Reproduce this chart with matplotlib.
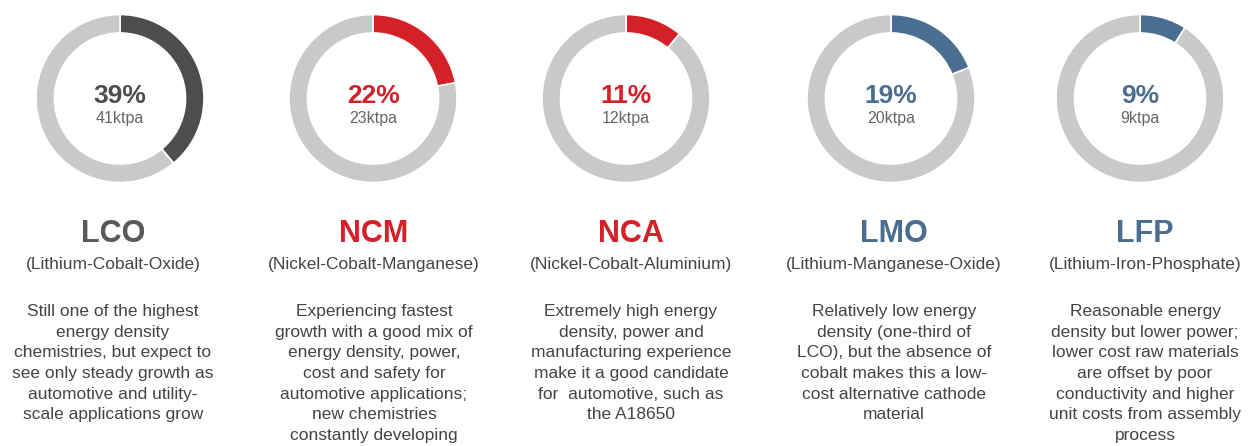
import matplotlib
matplotlib.use("Agg")
import matplotlib.pyplot as plt

# --- Data ---
chemistries = ["LCO", "NCM", "NCA", "LMO", "LFP"]
full_names = [
    "(Lithium-Cobalt-Oxide)",
    "(Nickel-Cobalt-Manganese)",
    "(Nickel-Cobalt-Aluminium)",
    "(Lithium-Manganese-Oxide)",
    "(Lithium-Iron-Phosphate)",
]
shares = [39, 22, 11, 19, 9]          # % of demand
volumes = [41, 23, 12, 20, 9]         # ktpa
descriptions = [
    "Still one of the highest\nenergy density\nchemistries, but expect to\n"
    "see only steady growth as\nautomotive and utility-\nscale applications grow",
    "Experiencing fastest\ngrowth with a good mix of\nenergy density, power,\n"
    "cost and safety for\nautomotive applications;\nnew chemistries\nconstantly developing",
    "Extremely high energy\ndensity, power and\nmanufacturing experience\n"
    "make it a good candidate\nfor  automotive, such as\nthe A18650",
    "Relatively low energy\ndensity (one-third of\nLCO), but the absence of\n"
    "cobalt makes this a low-\ncost alternative cathode\nmaterial",
    "Reasonable energy\ndensity but lower power;\nlower cost raw materials\n"
    "are offset by poor\nconductivity and higher\nunit costs from assembly\nprocess",
]

# --- Style / layout ---
colors = ["#4d4d4d", "#d42027", "#d42027", "#4a6e92", "#4a6e92"]
title_colors = ["#595959", "#d42027", "#d42027", "#4a6e92", "#4a6e92"]
ring_grey = "#c9c9c9"
text_grey = "#444444"

W, H = 1257, 446
donut_x = [120, 373, 626, 891, 1140]
text_x = [113, 374, 631, 894, 1145]
donut_y = 98.5
radius = 84

plt.rcParams["font.family"] = ["Liberation Sans", "DejaVu Sans"]

fig = plt.figure(figsize=(W / 100, H / 100), dpi=100)
fig.patch.set_facecolor("white")


def fy(py):
    # pixel from top -> figure fraction
    return 1 - py / H


for i, name in enumerate(chemistries):
    cx = donut_x[i]
    ax = fig.add_axes([(cx - radius) / W, fy(donut_y + radius),
                       2 * radius / W, 2 * radius / H])
    ax.pie([shares[i], 100 - shares[i]], colors=[colors[i], ring_grey],
           startangle=90, counterclock=False, radius=1,
           wedgeprops=dict(width=0.22, edgecolor="white", linewidth=1.2))
    ax.set_xlim(-1, 1)
    ax.set_ylim(-1, 1)
    ax.set_aspect("equal")
    ax.axis("off")

    fig.text(cx / W, fy(96), f"{shares[i]}%", ha="center", va="center",
             fontsize=19, fontweight="bold", color=colors[i])
    fig.text(cx / W, fy(119), f"{volumes[i]}ktpa", ha="center", va="center",
             fontsize=11.5, color="#666666")

    tx = text_x[i] / W
    fig.text(tx, fy(234), name, ha="center", va="center",
             fontsize=22, fontweight="bold", color=title_colors[i])
    fig.text(tx, fy(265), full_names[i], ha="center", va="center",
             fontsize=12.5, color=text_grey)
    fig.text(tx, fy(304), descriptions[i], ha="center", va="top",
             fontsize=12.5, color=text_grey, linespacing=1.47)

fig.savefig("out.png", dpi=100, facecolor="white")
